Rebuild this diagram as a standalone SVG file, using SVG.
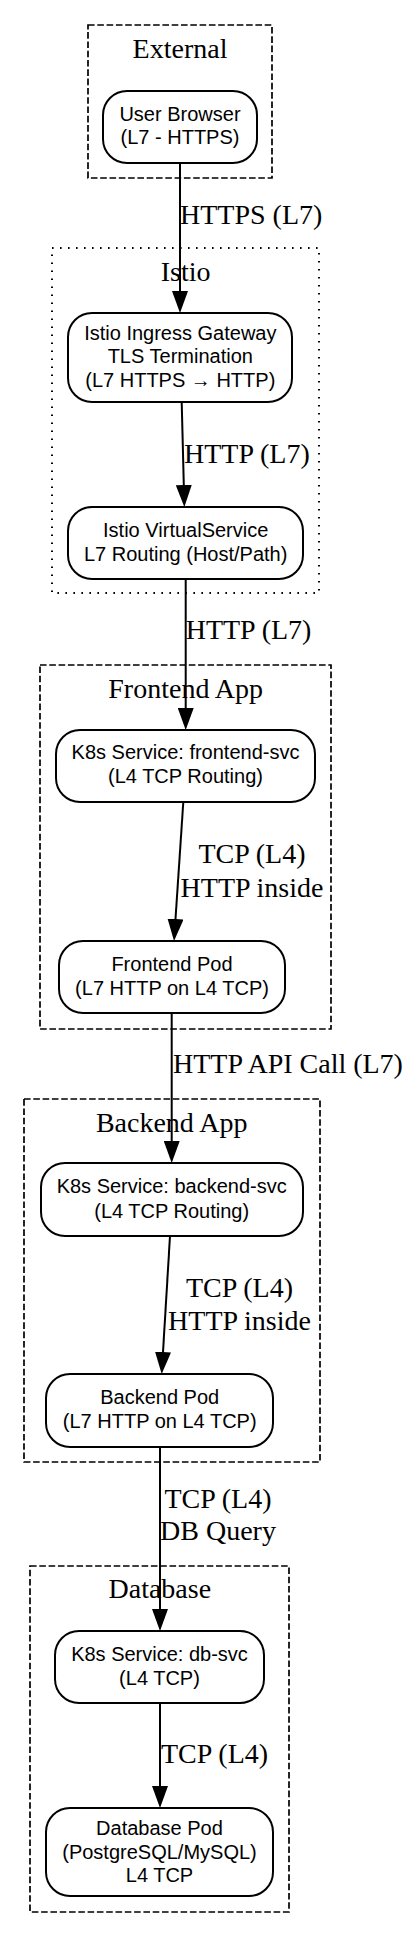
<svg xmlns="http://www.w3.org/2000/svg" width="412" height="1938" viewBox="0 0 412 1938">
<style>
.bg{fill:#ffffff}
.cl{fill:none;stroke:#000;stroke-width:1.7;stroke-dasharray:6.6,2.7}
.cd{fill:none;stroke:#000;stroke-width:2;stroke-dasharray:1.6,6.4}
.ct{font-family:"Liberation Serif","Times New Roman",serif;font-size:28px;fill:#000;text-anchor:middle}
.nd{fill:#fff;stroke:#000;stroke-width:2}
.nt{font-family:"Liberation Sans",Arial,sans-serif;font-size:20px;fill:#000;text-anchor:middle}
.ed{fill:none;stroke:#000;stroke-width:2}
.el{font-family:"Liberation Serif","Times New Roman",serif;font-size:28px;fill:#000}
.m{text-anchor:middle}
</style>
<defs>
<marker id="ah" viewBox="0 0 22 16" refX="0" refY="8" markerWidth="22" markerHeight="16" markerUnits="userSpaceOnUse" orient="auto">
<path d="M0,0 L22,8 L0,16 z" fill="#000"/>
</marker>
</defs>
<rect class="bg" x="0" y="0" width="412" height="1938"/>

<g id="clusters">
<g id="cluster_external">
<rect class="cl" x="88" y="25" width="184" height="153"/>
<text class="ct" x="180" y="58">External</text>
</g>
<g id="cluster_istio">
<rect class="cd" x="52" y="248" width="267" height="345"/>
<text class="ct" x="185.7" y="281">Istio</text>
</g>
<g id="cluster_frontend">
<rect class="cl" x="40" y="665" width="291" height="364"/>
<text class="ct" x="185.7" y="698">Frontend App</text>
</g>
<g id="cluster_backend">
<rect class="cl" x="24" y="1099" width="296" height="363"/>
<text class="ct" x="171.7" y="1132">Backend App</text>
</g>
<g id="cluster_database">
<rect class="cl" x="30" y="1566" width="259" height="346"/>
<text class="ct" x="159.8" y="1598">Database</text>
</g>
</g>

<g id="connectors">
<path class="ed" d="M180,163 L180,291" marker-end="url(#ah)"/>
<text class="el" x="180" y="224">HTTPS (L7)</text>
<path class="ed" d="M181.7,402 L183.8,485" marker-end="url(#ah)"/>
<text class="el" x="184" y="463">HTTP (L7)</text>
<path class="ed" d="M185.7,579 L185.7,708" marker-end="url(#ah)"/>
<text class="el" x="185.7" y="639">HTTP (L7)</text>
<path class="ed" d="M183.3,802 L175.5,919" marker-end="url(#ah)"/>
<text class="el m" x="252" y="863">TCP (L4)</text>
<text class="el m" x="252" y="897">HTTP inside</text>
<path class="ed" d="M171.7,1013 L171.7,1141" marker-end="url(#ah)"/>
<text class="el" x="173" y="1073">HTTP API Call (L7)</text>
<path class="ed" d="M170,1236 L163,1352" marker-end="url(#ah)"/>
<text class="el m" x="239.5" y="1297">TCP (L4)</text>
<text class="el m" x="239.5" y="1330">HTTP inside</text>
<path class="ed" d="M160,1447 L160,1609" marker-end="url(#ah)"/>
<text class="el m" x="218" y="1508">TCP (L4)</text>
<text class="el m" x="218" y="1540">DB Query</text>
<path class="ed" d="M160,1703 L160,1786" marker-end="url(#ah)"/>
<text class="el" x="161" y="1763">TCP (L4)</text>
</g>

<g id="user_browser">
<rect class="nd" x="103" y="91" width="154" height="72" rx="24" ry="24"/>
<text class="nt" x="180" y="121">User Browser</text>
<text class="nt" x="180" y="144">(L7 - HTTPS)</text>
</g>
<g id="istio_gateway">
<rect class="nd" x="68" y="313" width="224" height="89" rx="24" ry="24"/>
<text class="nt" x="180.3" y="339.5">Istio Ingress Gateway</text>
<text class="nt" x="180.3" y="363">TLS Termination</text>
<text class="nt" x="180.3" y="386.5">(L7 HTTPS → HTTP)</text>
</g>
<g id="istio_virtualservice">
<rect class="nd" x="68" y="507" width="235" height="72" rx="24" ry="24"/>
<text class="nt" x="185.7" y="537">Istio VirtualService</text>
<text class="nt" x="185.7" y="561">L7 Routing (Host/Path)</text>
</g>
<g id="frontend_svc">
<rect class="nd" x="56" y="730" width="259" height="72" rx="24" ry="24"/>
<text class="nt" x="185.5" y="759">K8s Service: frontend-svc</text>
<text class="nt" x="185.5" y="783">(L4 TCP Routing)</text>
</g>
<g id="frontend_pod">
<rect class="nd" x="59" y="941" width="226" height="72" rx="24" ry="24"/>
<text class="nt" x="172" y="971">Frontend Pod</text>
<text class="nt" x="172" y="995">(L7 HTTP on L4 TCP)</text>
</g>
<g id="backend_svc">
<rect class="nd" x="41" y="1163" width="262" height="73" rx="24" ry="24"/>
<text class="nt" x="171.7" y="1193">K8s Service: backend-svc</text>
<text class="nt" x="171.7" y="1218">(L4 TCP Routing)</text>
</g>
<g id="backend_pod">
<rect class="nd" x="46" y="1374" width="227" height="73" rx="24" ry="24"/>
<text class="nt" x="159.7" y="1404">Backend Pod</text>
<text class="nt" x="159.7" y="1428">(L7 HTTP on L4 TCP)</text>
</g>
<g id="db_svc">
<rect class="nd" x="55" y="1631" width="209" height="72" rx="24" ry="24"/>
<text class="nt" x="159.5" y="1661">K8s Service: db-svc</text>
<text class="nt" x="159.5" y="1685">(L4 TCP)</text>
</g>
<g id="database_pod">
<rect class="nd" x="46" y="1808" width="227" height="88" rx="24" ry="24"/>
<text class="nt" x="159.5" y="1835">Database Pod</text>
<text class="nt" x="159.5" y="1859">(PostgreSQL/MySQL)</text>
<text class="nt" x="159.5" y="1882">L4 TCP</text>
</g>
</svg>
